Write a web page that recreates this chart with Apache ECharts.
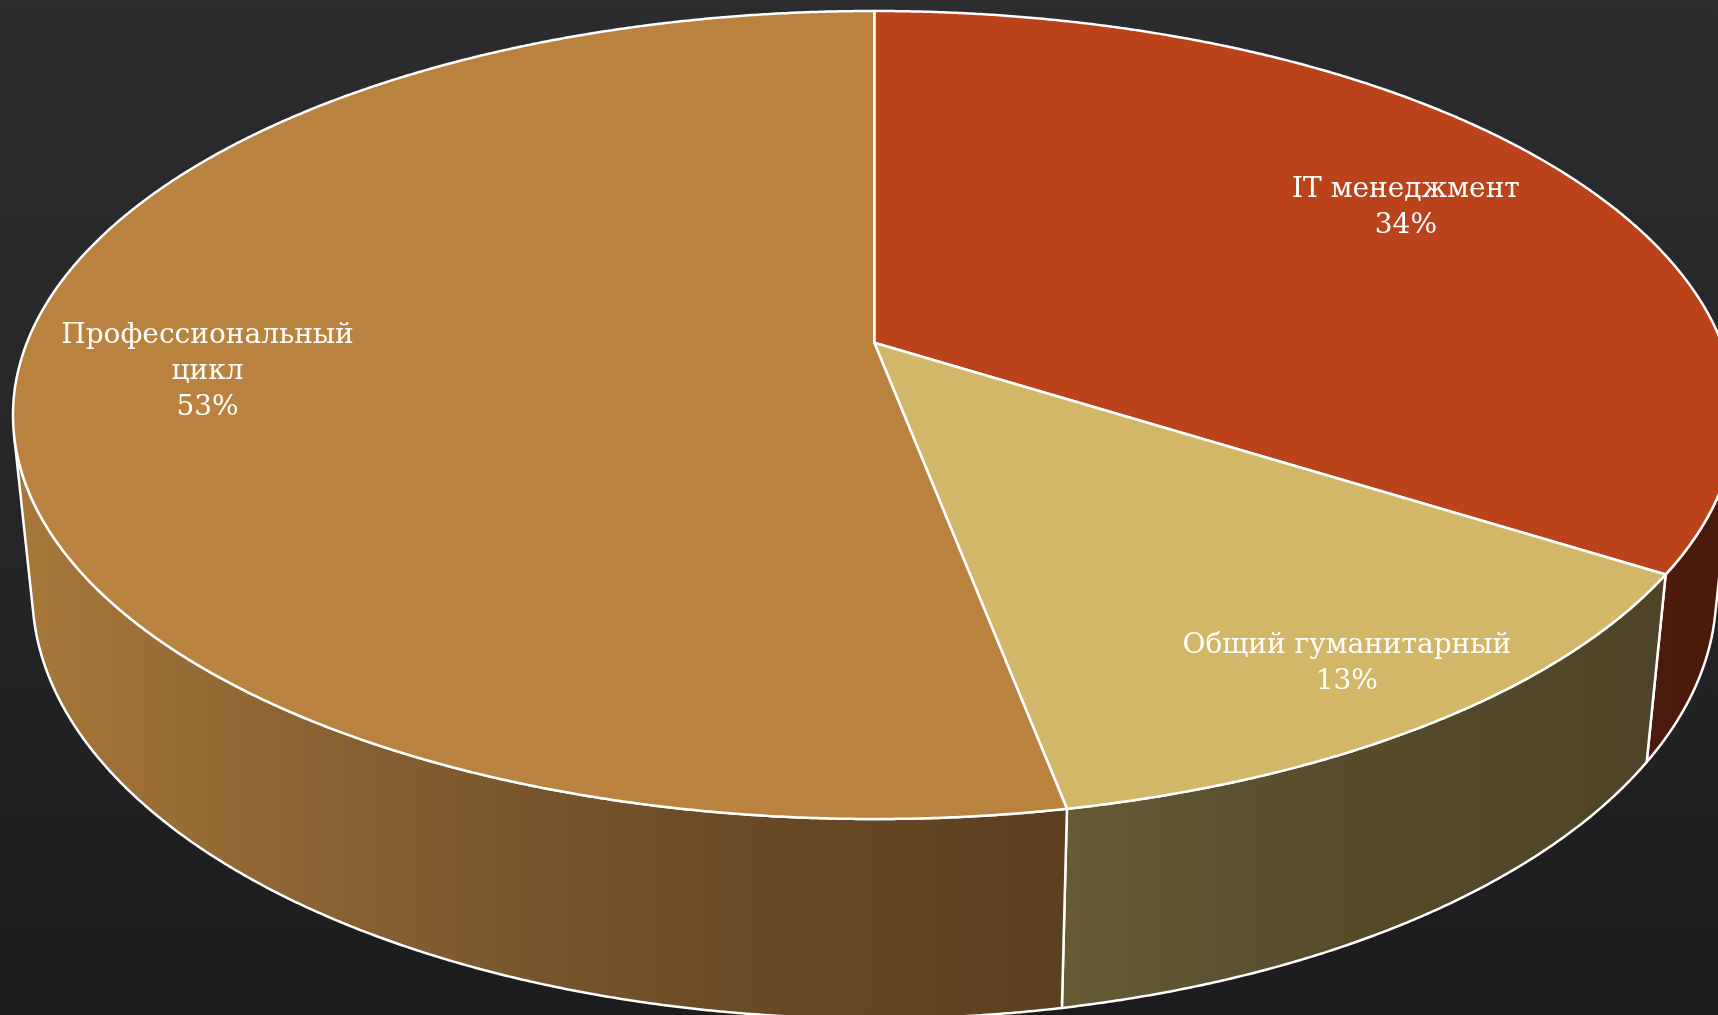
<!DOCTYPE html>
<html>
<head>
<meta charset="utf-8">
<script src="https://cdn.jsdelivr.net/npm/echarts@6/dist/echarts.min.js"></script>
<style>
html,body{margin:0;padding:0;background:#262628;}
#chart{width:1718px;height:1015px;}
</style>
</head>
<body>
<div id="chart"></div>
<script>
// ---- data ----
const categories = ['IT менеджмент', 'Общий гуманитарный', 'Профессиональный\nцикл'];
const values = [34, 13, 53];

// ---- styles ----
const topColors = ['#BA431B', '#D3B768', '#B9833F'];
const wallGradients = [
  { x0: 1640, x1: 1718, stops: ['#4D1B0C', '#4A190A'] },
  { x0: 1062, x1: 1650, stops: ['#675B36', '#5D5231', '#564A2A', '#534829', '#4F4427'] },
  { x0: 14,   x1: 1062, stops: ['#A77839', '#8E6533', '#77552C', '#664825', '#5B3F1F'] }
];
const labelRadius = [0.763, 0.865, 0.78];

// ---- projection (layout) ----
const CX = 874.3, A = 847.4, G = 0.17896, D = -329.73, E = 342.7, SINP = 0.4623, THICK = 0.238;
const COSP = Math.sqrt(1 - SINP * SINP);
const A0 = COSP / G, F = A * A0, CY = (D + A * SINP) / G, B0 = (CY - E) / A;
const DC = A0 * COSP + B0 * SINP;

function proj(theta, r, h) {
  const u = r * Math.sin(theta), v = r * Math.cos(theta);
  const z = A0 - h * SINP + COSP * v;
  const yc = B0 + h * COSP + SINP * v;
  return [CX + F * u / z, CY - F * yc / z];
}

const total = values.reduce((s, v) => s + v, 0);

function renderItem(params, api) {
  const i = params.dataIndex;
  let before = 0;
  for (let k = 0; k < i; k++) before += values[k];
  const start = before / total * Math.PI * 2;
  const end = (before + api.value(0)) / total * Math.PI * 2;
  const step = Math.PI / 720;
  const children = [];

  // side wall (visible front part)
  const vs = Math.acos(-1 / DC), ve = Math.PI * 2 - vs;
  const ws = Math.max(start, vs), we = Math.min(end, ve);
  if (we > ws) {
    const pts = [];
    for (let t = ws; t < we; t += step) pts.push(proj(t, 1, 0));
    pts.push(proj(we, 1, 0));
    for (let t = we; t > ws; t -= step) pts.push(proj(t, 1, -THICK));
    pts.push(proj(ws, 1, -THICK));
    const g = wallGradients[i];
    const n = g.stops.length;
    children.push({
      type: 'polygon', z2: 1,
      shape: { points: pts },
      style: {
        fill: { type: 'linear', x: g.x0, y: 0, x2: g.x1, y2: 0, global: true,
          colorStops: g.stops.map((c, k) => ({ offset: n === 1 ? 0 : k / (n - 1), color: c })) },
        stroke: '#FFFFFF', lineWidth: 2.5, lineJoin: 'round'
      }
    });
  }

  // top face
  const tp = [proj(0, 0, 0)];
  for (let t = start; t < end; t += step) tp.push(proj(t, 1, 0));
  tp.push(proj(end, 1, 0));
  children.push({
    type: 'polygon', z2: 10,
    shape: { points: tp },
    style: { fill: topColors[i], stroke: '#FFFFFF', lineWidth: 2.5, lineJoin: 'round' }
  });

  // label
  const mid = (start + end) / 2;
  const lp = proj(mid, labelRadius[i], 0);
  const pct = Math.round(api.value(0) / total * 100) + '%';
  children.push({
    type: 'text', z2: 20,
    x: lp[0], y: lp[1],
    style: {
      text: categories[i] + '\n' + pct,
      fill: '#FFFFFF',
      font: '28px "DejaVu Serif", "Liberation Serif", serif',
      lineHeight: 36,
      align: 'center', verticalAlign: 'middle'
    }
  });

  return { type: 'group', children };
}

const chart = echarts.init(document.getElementById('chart'), null, { renderer: 'canvas' });
chart.setOption({
  animation: false,
  backgroundColor: {
    type: 'linear', x: 0, y: 0, x2: 0, y2: 1,
    colorStops: [
      { offset: 0, color: '#2C2C2E' },
      { offset: 0.5, color: '#262628' },
      { offset: 1, color: '#1C1C1E' }
    ]
  },
  series: [{
    type: 'custom',
    coordinateSystem: 'none',
    renderItem: renderItem,
    data: values.map((v, k) => ({ name: categories[k], value: [v] }))
  }]
});
</script>
</body>
</html>
